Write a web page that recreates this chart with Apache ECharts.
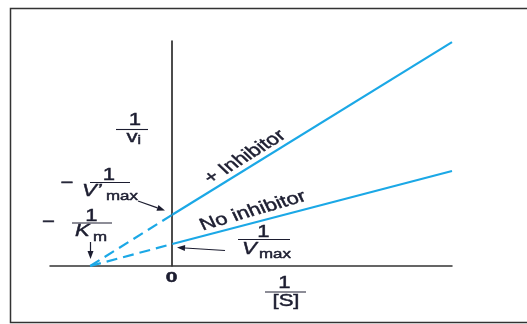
<!DOCTYPE html>
<html>
<head>
<meta charset="utf-8">
<script src="https://cdn.jsdelivr.net/npm/echarts@6/dist/echarts.min.js"></script>
<style>
  html, body { margin: 0; padding: 0; background: #fff; }
  #chart { width: 527px; height: 324px; }
</style>
</head>
<body>
<div id="chart"></div>
<script>
// ---- data (Lineweaver–Burk plot) ----
const xDashed = [-1, 0];            // from -1/Km to the y axis
const noInhibitorDashed = [0, 1.0];
const inhibitorDashed = [0, 2.33];
const xSolid = [0, 3.41];           // from the y axis to the right end
const noInhibitorSolid = [1.0, 4.32];
const inhibitorSolid = [2.33, 10.18];
const xRange = [-1.49, 3.41];
const yRange = [0, 10.23];

const BLUE = '#1ba8e6';
const INK = '#1c1d30';
const FONT = '"Liberation Sans", Arial, sans-serif';
const SX = 1.3;

function pairs(xs, ys) { return xs.map((x, i) => [x, ys[i]]); }

function label(x, y, text, size, opt) {
  opt = opt || {};
  return {
    type: 'group', x: x, y: y, scaleX: opt.sx || SX, z: 10,
    children: [{
      type: 'text', rotation: opt.rot || 0,
      style: {
        text: text, fontSize: size, fontFamily: FONT,
        fontStyle: opt.italic ? 'italic' : 'normal',
        fontWeight: opt.bold ? 'bold' : 'normal',
        fill: INK, stroke: INK, lineWidth: 0.45,
        align: opt.align || 'center', verticalAlign: 'middle'
      }
    }]
  };
}
function rule(x1, x2, y) {
  return { type: 'line', z: 10, shape: { x1: x1, y1: y, x2: x2, y2: y },
           style: { stroke: INK, lineWidth: 1.1 } };
}
function arrow(x1, y1, x2, y2) {
  const dx = x2 - x1, dy = y2 - y1, L = Math.hypot(dx, dy);
  const ux = dx / L, uy = dy / L, hl = 8, hw = 3;
  const bx = x2 - ux * hl, by = y2 - uy * hl;
  return [
    { type: 'line', z: 10, shape: { x1: x1, y1: y1, x2: bx, y2: by },
      style: { stroke: INK, lineWidth: 1.2 } },
    { type: 'polygon', z: 10,
      shape: { points: [[x2, y2], [bx - uy * hw, by + ux * hw], [bx + uy * hw, by - ux * hw]] },
      style: { fill: INK } }
  ];
}
function rotFor(dxp, dyp) {
  // visible angle of the line, compensated for the horizontal text stretch
  return Math.atan(SX * Math.tan(Math.atan2(dyp, dxp)));
}

const chart = echarts.init(document.getElementById('chart'), null, { renderer: 'canvas' });

const option = {
  animation: false,
  backgroundColor: '#fff',
  grid: { left: 50, right: 75, top: 41, bottom: 58 },
  xAxis: {
    type: 'value', min: xRange[0], max: xRange[1],
    axisLine: { onZero: true, lineStyle: { color: '#333', width: 1.5 } },
    axisTick: { show: false }, axisLabel: { show: false }, splitLine: { show: false }
  },
  yAxis: {
    type: 'value', min: yRange[0], max: yRange[1],
    axisLine: { show: true, onZero: true, lineStyle: { color: '#111', width: 1.5 } },
    axisTick: { show: false }, axisLabel: { show: false }, splitLine: { show: false }
  },
  series: [
    { type: 'line', data: pairs(xSolid, inhibitorSolid), symbol: 'none',
      lineStyle: { color: BLUE, width: 2.2 } },
    { type: 'line', data: pairs(xSolid, noInhibitorSolid), symbol: 'none',
      lineStyle: { color: BLUE, width: 2.2 } },
    { type: 'line', data: pairs(xDashed, inhibitorDashed), symbol: 'none',
      lineStyle: { color: BLUE, width: 2.2, type: [11, 6] } },
    { type: 'line', data: pairs(xDashed, noInhibitorDashed), symbol: 'none',
      lineStyle: { color: BLUE, width: 2.2, type: [11, 6] } }
  ],
  graphic: [
    { type: 'rect', z: 0, shape: { x: 10.5, y: 8.5, width: 540, height: 314 },
      style: { fill: 'none', stroke: '#333', lineWidth: 1.5 } },
    // 1 / v_i
    label(135, 120, '1', 17),
    rule(116, 148, 129.5),
    label(132, 137, 'v', 17),
    label(137.5, 141, 'i', 12, { align: 'left' }),
    // − 1 / V'max
    label(67, 183, '\u2212', 17),
    label(109, 175.5, '1', 17),
    rule(90, 130, 182.5),
    label(82, 191.5, 'V\u2019', 17, { italic: true, align: 'left' }),
    label(106, 196.5, 'max', 13, { align: 'left' }),
    ...arrow(138, 201, 165, 210.5),
    // − 1 / Km
    label(48.5, 222, '\u2212', 17),
    label(91.5, 216, '1', 17),
    rule(72, 112, 223),
    label(75, 231, 'K', 17, { italic: true, align: 'left' }),
    label(93, 237, 'm', 13, { align: 'left' }),
    ...arrow(90.5, 242, 90.5, 259),
    // 1 / Vmax
    label(263.5, 232, '1', 17),
    rule(238, 290, 239.5),
    label(242, 249, 'V', 17, { italic: true, align: 'left' }),
    label(259, 254, 'max', 13, { align: 'left' }),
    ...arrow(225, 250.5, 177, 247.5),
    // origin and x label
    label(171.5, 278.5, '0', 14, { bold: true, sx: 1.5 }),
    label(284.5, 283.5, '1', 17),
    rule(265, 306, 292),
    label(286, 301, '[S]', 17),
    // line labels
    label(245, 157, '+ Inhibitor', 17, { rot: rotFor(281, 173) }),
    label(253, 211, 'No inhibitor', 17, { rot: rotFor(363, 95) + 0.03 })
  ]
};
chart.setOption(option);
</script>
</body>
</html>
